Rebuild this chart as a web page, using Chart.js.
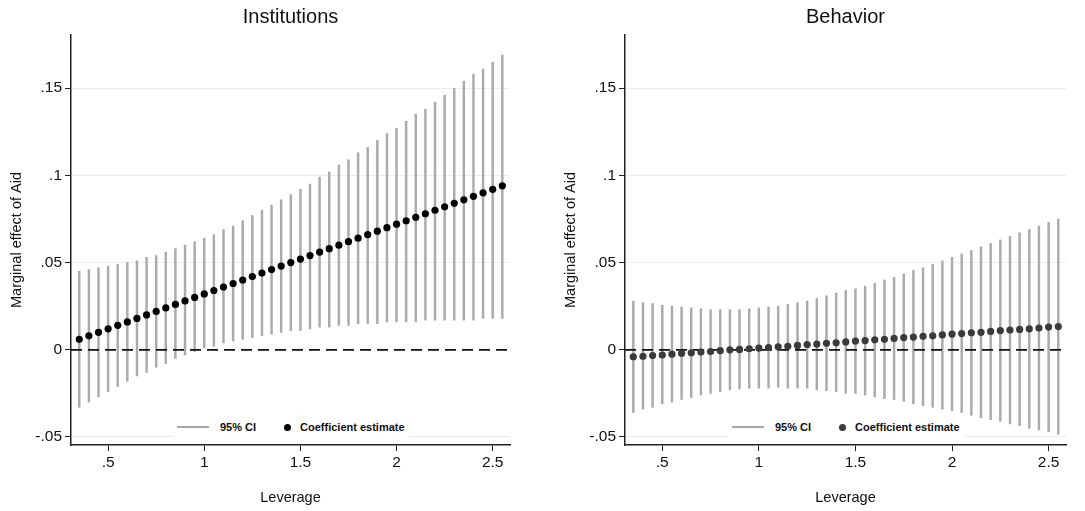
<!DOCTYPE html>
<html>
<head>
<meta charset="utf-8">
<script src="https://cdn.jsdelivr.net/npm/chart.js@4.4.1/dist/chart.umd.min.js"></script>
<style>
  body { margin: 0; background: #fff; width: 1085px; height: 511px; overflow: hidden; }
  .panel { position: absolute; top: 0; }
  .legend {
    position: absolute; top: 416px; height: 22px; background: #fff;
    display: flex; align-items: center; padding: 0 4px;
    font: bold 11px "Liberation Sans", Arial, sans-serif; color: #111;
  }
  .legend .ci { display: inline-block; width: 32px; height: 2px; background: #a6a6a6; margin-right: 11px; }
  .legend .dot { display: inline-block; width: 7px; height: 7px; border-radius: 50%; margin: 0 9px 0 28px; }
</style>
</head>
<body>
<div class="panel" style="left:0"><canvas id="inst" width="542" height="511"></canvas></div>
<div class="panel" style="left:542px"><canvas id="beh" width="543" height="511"></canvas></div>
<div class="legend" style="left:173px"><span class="ci"></span>95% CI<span class="dot" style="background:#000"></span>Coefficient estimate</div>
<div class="legend" style="left:728px"><span class="ci"></span>95% CI<span class="dot" style="background:#3a3a3a"></span>Coefficient estimate</div>
<script>
// Leverage values (x)
const leverage = [0.35, 0.40, 0.45, 0.50, 0.55, 0.60, 0.65, 0.70, 0.75, 0.80, 0.85, 0.90, 0.95,
  1.00, 1.05, 1.10, 1.15, 1.20, 1.25, 1.30, 1.35, 1.40, 1.45, 1.50, 1.55, 1.60, 1.65, 1.70, 1.75,
  1.80, 1.85, 1.90, 1.95, 2.00, 2.05, 2.10, 2.15, 2.20, 2.25, 2.30, 2.35, 2.40, 2.45, 2.50, 2.55];

// Institutions panel
const instCoef = [0.006, 0.008, 0.010, 0.012, 0.014, 0.016, 0.018, 0.020, 0.022, 0.024, 0.026, 0.028, 0.030,
  0.032, 0.034, 0.036, 0.038, 0.040, 0.042, 0.044, 0.046, 0.048, 0.050, 0.052, 0.054, 0.056, 0.058, 0.060, 0.062,
  0.064, 0.066, 0.068, 0.070, 0.072, 0.074, 0.076, 0.078, 0.080, 0.082, 0.084, 0.086, 0.088, 0.090, 0.092, 0.094];
const instLow = [-0.033, -0.030, -0.027, -0.024, -0.021, -0.018, -0.015, -0.013, -0.010, -0.008, -0.005, -0.003, -0.001,
  0.001, 0.002, 0.004, 0.005, 0.006, 0.007, 0.008, 0.009, 0.010, 0.011, 0.011, 0.012, 0.013, 0.013, 0.014, 0.014,
  0.015, 0.015, 0.015, 0.016, 0.016, 0.016, 0.016, 0.017, 0.017, 0.017, 0.017, 0.017, 0.017, 0.018, 0.018, 0.018];
const instHigh = [0.045, 0.046, 0.047, 0.048, 0.049, 0.050, 0.051, 0.053, 0.054, 0.056, 0.058, 0.060, 0.062,
  0.064, 0.066, 0.069, 0.071, 0.074, 0.077, 0.080, 0.083, 0.086, 0.089, 0.092, 0.095, 0.099, 0.102, 0.106, 0.109,
  0.113, 0.116, 0.120, 0.124, 0.127, 0.131, 0.135, 0.138, 0.142, 0.146, 0.150, 0.154, 0.158, 0.161, 0.165, 0.169];

// Behavior panel
const behCoef = [-0.0040, -0.0037, -0.0033, -0.0030, -0.0025, -0.0020, -0.0017, -0.0013, -0.0010, -0.0005, 0.0000, 0.0002, 0.0006,
  0.0010, 0.0013, 0.0017, 0.0020, 0.0025, 0.0030, 0.0033, 0.0037, 0.0040, 0.0045, 0.0050, 0.0053, 0.0057, 0.0060, 0.0065, 0.0070,
  0.0073, 0.0077, 0.0080, 0.0085, 0.0090, 0.0093, 0.0097, 0.0100, 0.0105, 0.0110, 0.0113, 0.0117, 0.0120, 0.0125, 0.0130, 0.0133];
const behLow = [-0.036, -0.034, -0.033, -0.031, -0.030, -0.0285, -0.0275, -0.026, -0.025, -0.024, -0.023, -0.0225, -0.022,
  -0.022, -0.022, -0.0215, -0.022, -0.022, -0.022, -0.023, -0.0235, -0.024, -0.025, -0.025, -0.026, -0.027, -0.028, -0.0285, -0.0295,
  -0.031, -0.032, -0.033, -0.034, -0.035, -0.036, -0.0375, -0.039, -0.040, -0.041, -0.0425, -0.0435, -0.045, -0.046, -0.047, -0.0485];
const behHigh = [0.028, 0.027, 0.0265, 0.0255, 0.025, 0.0245, 0.024, 0.0235, 0.023, 0.023, 0.023, 0.023, 0.0235,
  0.024, 0.0245, 0.025, 0.026, 0.027, 0.028, 0.0295, 0.031, 0.0325, 0.034, 0.035, 0.0365, 0.038, 0.040, 0.0415, 0.0435,
  0.0455, 0.047, 0.049, 0.051, 0.053, 0.055, 0.057, 0.059, 0.061, 0.063, 0.065, 0.067, 0.069, 0.071, 0.073, 0.075];

// Axis ticks
const xTicks = [0.5, 1, 1.5, 2, 2.5];
const yTicks = [-0.05, 0, 0.05, 0.1, 0.15];

const FONT = '"Liberation Sans", Arial, Helvetica, sans-serif';

function fmtY(v) {
    if (v === 0) return '0';
    return (v < 0 ? '-' : '') + String(Math.abs(v)).replace(/^0/, '');
}

function fmtX(v) {
    return String(v).replace(/^0/, '');
}

function makeChart(id, title, coef, low, high, dotColor, yAxisWidth, yTitlePad, padRight) {
    const xMin = 0.307, xMax = 2.59;
    const ctx = document.getElementById(id).getContext('2d');
    return new Chart(ctx, {
        type: 'bar',
        data: {
            datasets: [
                {
                    type: 'scatter',
                    label: 'Coefficient estimate',
                    data: leverage.map((x, i) => ({ x: x, y: coef[i] })),
                    backgroundColor: dotColor,
                    borderWidth: 0,
                    pointRadius: 3.6,
                    order: 1
                },
                {
                    // dashed reference line at zero
                    type: 'line',
                    label: 'zero',
                    data: [{ x: xMin, y: 0 }, { x: xMax, y: 0 }],
                    borderColor: '#111',
                    borderWidth: 1.8,
                    borderDash: [11, 6],
                    pointRadius: 0,
                    order: 2
                },
                {
                    type: 'bar',
                    label: '95% CI',
                    data: leverage.map((x, i) => ({ x: x, y: [low[i], high[i]] })),
                    backgroundColor: '#aaaaaa',
                    barThickness: 1.8,
                    order: 3
                }
            ]
        },
        options: {
            responsive: false,
            animation: false,
            layout: { padding: { left: 0, right: padRight, top: 0, bottom: 0 } },
            plugins: {
                legend: { display: false },
                tooltip: { enabled: false },
                title: {
                    display: true,
                    text: title,
                    fullSize: false,
                    color: '#111',
                    font: { family: FONT, size: 20, weight: 'normal' },
                    padding: { top: 5, bottom: 6 }
                }
            },
            scales: {
                x: {
                    type: 'linear',
                    min: xMin,
                    max: xMax,
                    offset: false,
                    afterBuildTicks: s => { s.ticks = xTicks.map(v => ({ value: v })); },
                    afterFit: s => { s.height = 66; },
                    grid: { offset: false, drawOnChartArea: false, tickLength: 6, tickColor: '#222', tickWidth: 1 },
                    border: { color: '#222', width: 1.5 },
                    ticks: {
                        color: '#111',
                        padding: 2,
                        maxRotation: 0,
                        font: { family: FONT, size: 15.5 },
                        callback: v => fmtX(v)
                    },
                    title: {
                        display: true,
                        text: 'Leverage',
                        color: '#111',
                        font: { family: FONT, size: 14.5 },
                        padding: { top: 0, bottom: 4 }
                    }
                },
                y: {
                    type: 'linear',
                    min: -0.0546,
                    max: 0.1805,
                    afterBuildTicks: s => { s.ticks = yTicks.map(v => ({ value: v })); },
                    afterFit: s => { s.width = yAxisWidth; },
                    grid: {
                        color: c => (c.tick && c.tick.value === 0) ? 'rgba(0,0,0,0)' : '#ececec',
                        lineWidth: 1,
                        tickLength: 6,
                        tickColor: '#222'
                    },
                    border: { color: '#222', width: 1.5 },
                    ticks: {
                        color: '#111',
                        padding: 3,
                        font: { family: FONT, size: 15.5 },
                        callback: v => fmtY(v)
                    },
                    title: {
                        display: true,
                        text: 'Marginal effect of Aid',
                        color: '#111',
                        font: { family: FONT, size: 14.5 },
                        padding: { top: yTitlePad, bottom: 0 }
                    }
                }
            }
        }
    });
}

makeChart('inst', 'Institutions', instCoef, instLow, instHigh, '#000', 71, 8, 32);
makeChart('beh', 'Behavior', behCoef, behLow, behHigh, '#3a3a3a', 83, 20, 19);
</script>
</body>
</html>
